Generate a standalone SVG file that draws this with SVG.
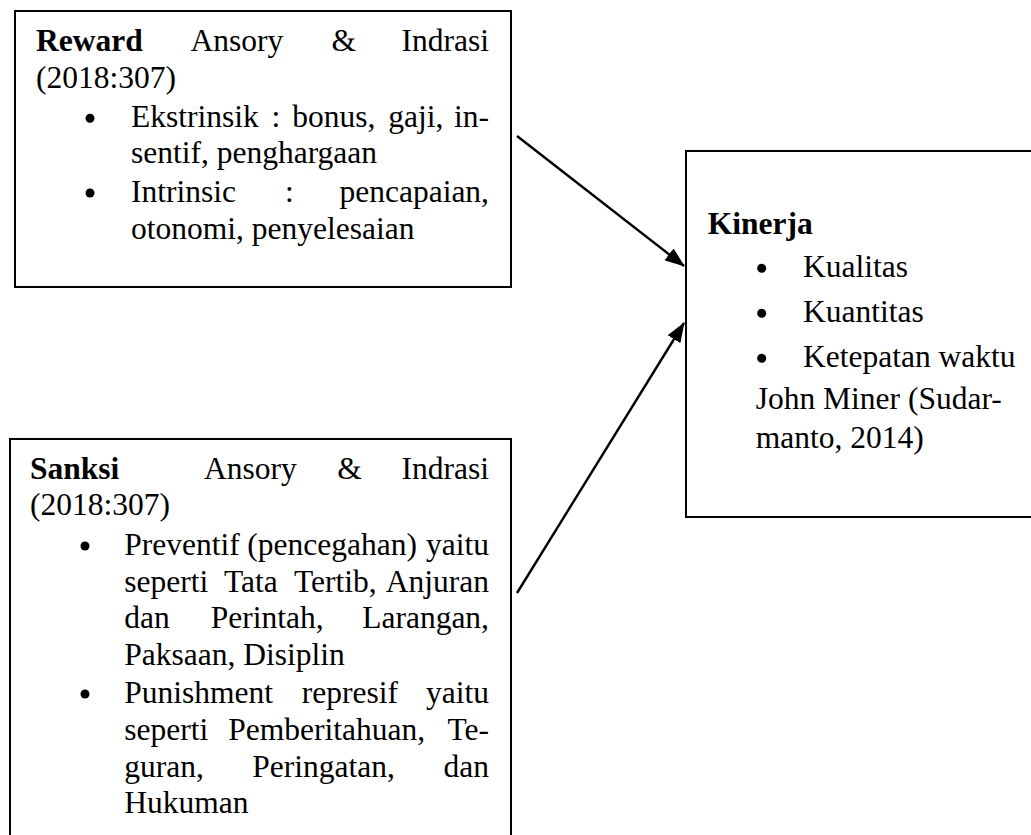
<svg xmlns="http://www.w3.org/2000/svg" width="1031" height="835" viewBox="0 0 1031 835">
<style>
.t{font-family:"Liberation Serif","Times New Roman",serif;font-size:31.5px;fill:#000}
.b{font-weight:bold}
.e{text-anchor:end}
.box{fill:#fff;stroke:#000;stroke-width:2}
.con{stroke:#000;stroke-width:2.4;fill:none}
</style>
<defs>
<marker id="ah" markerUnits="userSpaceOnUse" markerWidth="20" markerHeight="15" refX="19" refY="7.5" orient="auto">
<path d="M0,0 L20,7.5 L0,15 Z" fill="#000"/>
</marker>
</defs>
<rect width="1031" height="835" fill="#fff"/>
<g id="connectors">
<line class="con" x1="517" y1="136" x2="684" y2="266" marker-end="url(#ah)"/>
<line class="con" x1="517" y1="593" x2="684" y2="323" marker-end="url(#ah)"/>
</g>
<g id="reward">
<rect class="box" x="15" y="11" width="496" height="276"/>
<text class="t b" x="36" y="50.5">Reward</text>
<text class="t" x="190.5" y="50.5">Ansory</text>
<text class="t" x="331.5" y="50.5">&amp;</text>
<text class="t e" x="489" y="50.5">Indrasi</text>
<text class="t" x="36" y="87.5">(2018:307)</text>
<circle cx="90" cy="118.3" r="4.5"/>
<text class="t" x="131" y="127.3">Ekstrinsik</text>
<text class="t" x="271.5" y="127.3">:</text>
<text class="t" x="292.3" y="127.3">bonus,</text>
<text class="t" x="388.3" y="127.3">gaji,</text>
<text class="t e" x="489" y="127.3">in-</text>
<text class="t" x="131" y="162.5">sentif, penghargaan</text>
<circle cx="90" cy="193" r="4.5"/>
<text class="t" x="131" y="202">Intrinsic</text>
<text class="t" x="285" y="202">:</text>
<text class="t e" x="489" y="202">pencapaian,</text>
<text class="t" x="131" y="238.5">otonomi, penyelesaian</text>
</g>
<g id="sanksi">
<rect class="box" x="10" y="439" width="501" height="410"/>
<text class="t b" x="30" y="479">Sanksi</text>
<text class="t" x="204" y="479">Ansory</text>
<text class="t" x="337.3" y="479">&amp;</text>
<text class="t e" x="489" y="479">Indrasi</text>
<text class="t" x="30" y="515">(2018:307)</text>
<circle cx="85" cy="546" r="4.5"/>
<text class="t" x="124.3" y="555">Preventif</text>
<text class="t" x="247.3" y="555">(pencegahan)</text>
<text class="t e" x="489" y="555">yaitu</text>
<text class="t" x="124.3" y="591.7">seperti</text>
<text class="t" x="224" y="591.7">Tata</text>
<text class="t" x="294" y="591.7">Tertib,</text>
<text class="t e" x="489" y="591.7">Anjuran</text>
<text class="t" x="124.3" y="628">dan</text>
<text class="t" x="210.7" y="628">Perintah,</text>
<text class="t e" x="489" y="628">Larangan,</text>
<text class="t" x="124.3" y="665">Paksaan, Disiplin</text>
<circle cx="85" cy="694" r="4.5"/>
<text class="t" x="124.3" y="703">Punishment</text>
<text class="t" x="301.7" y="703">represif</text>
<text class="t e" x="489" y="703">yaitu</text>
<text class="t" x="124.3" y="740">seperti</text>
<text class="t" x="228.3" y="740">Pemberitahuan,</text>
<text class="t e" x="489" y="740">Te-</text>
<text class="t" x="124.3" y="776.7">guran,</text>
<text class="t" x="252.3" y="776.7">Peringatan,</text>
<text class="t e" x="489" y="776.7">dan</text>
<text class="t" x="124.3" y="813.3">Hukuman</text>
</g>
<g id="kinerja">
<rect class="box" x="686" y="151" width="360" height="366"/>
<text class="t b" x="707.7" y="234">Kinerja</text>
<circle cx="761.7" cy="268.3" r="4.5"/>
<text class="t" x="803" y="277">Kualitas</text>
<circle cx="761.7" cy="313.3" r="4.5"/>
<text class="t" x="803" y="322">Kuantitas</text>
<circle cx="761.7" cy="358.3" r="4.5"/>
<text class="t" x="803" y="367">Ketepatan waktu</text>
<text class="t" x="755.7" y="409">John Miner (Sudar-</text>
<text class="t" x="755.7" y="448">manto, 2014)</text>
</g>
</svg>
